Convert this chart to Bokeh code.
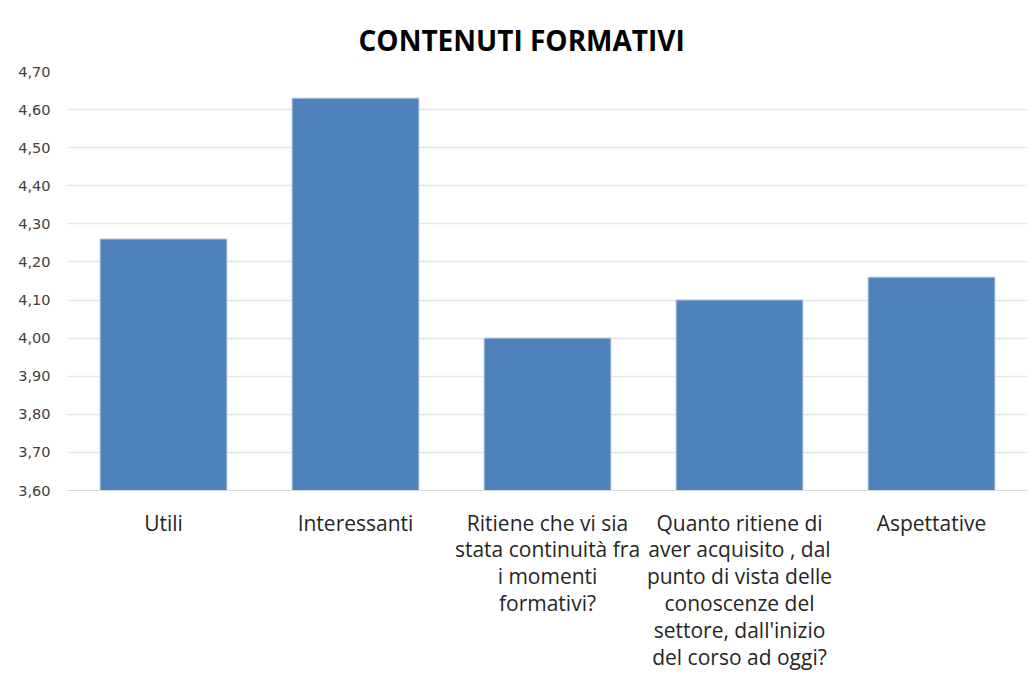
from bokeh.plotting import figure
from bokeh.models import FixedTicker, CustomJSTickFormatter
from bokeh.embed import file_html
from bokeh.resources import INLINE

title_text = "CONTENUTI FORMATIVI"
categories = [
    "Utili",
    "Interessanti",
    "Ritiene che vi sia\nstata continuità fra\ni momenti\nformativi?",
    "Quanto ritiene di\naver acquisito , dal\npunto di vista delle\nconoscenze del\nsettore, dall'inizio\ndel corso ad oggi?",
    "Aspettative",
]
values = [4.26, 4.63, 4.00, 4.10, 4.16]
y_ticks = [3.60, 3.70, 3.80, 3.90, 4.00, 4.10, 4.20, 4.30, 4.40, 4.50, 4.60, 4.70]

p = figure(
    x_range=categories,
    y_range=(y_ticks[0], y_ticks[-1]),
    width=1029, height=673,
    output_backend="svg", toolbar_location=None,
    min_border_left=67, min_border_right=2, min_border_top=71, min_border_bottom=181,
    title=title_text,
)

p.vbar(x=categories, top=values, bottom=y_ticks[0], width=0.66,
       fill_color="#4F81BD", line_color="#A7BFDE", line_width=1)

p.title.align = "left"
p.title.text_font = "Open Sans"
p.title.text_font_size = "28px"
p.title.text_font_style = "bold"
p.title.text_color = "#000000"
p.title.offset = 291
p.title.standoff = 26

p.yaxis.ticker = FixedTicker(ticks=y_ticks)
p.yaxis.formatter = CustomJSTickFormatter(code="return tick.toFixed(2).replace('.', ',');")
p.yaxis.axis_line_color = None
p.yaxis.major_tick_line_color = None
p.yaxis.minor_tick_line_color = None
p.yaxis.major_label_text_font = "DejaVu Sans"
p.yaxis.major_label_text_font_size = "14.5px"
p.yaxis.major_label_text_color = "#404040"
p.yaxis.major_label_standoff = 11

p.xaxis.axis_line_color = "#D9D9D9"
p.xaxis.major_tick_line_color = None
p.xaxis.minor_tick_line_color = None
p.xaxis.major_label_text_font = "Open Sans"
p.xaxis.major_label_text_font_size = "21px"
p.xaxis.major_label_text_color = "#262626"
p.xaxis.major_label_text_line_height = 0.96
p.xaxis.major_label_standoff = 12

p.xgrid.grid_line_color = None
p.ygrid.grid_line_color = "#E6E6E6"
p.ygrid.grid_line_width = 1.5
p.outline_line_color = None
p.x_range.range_padding = 0

open("out.html", "w").write(file_html(p, INLINE))
